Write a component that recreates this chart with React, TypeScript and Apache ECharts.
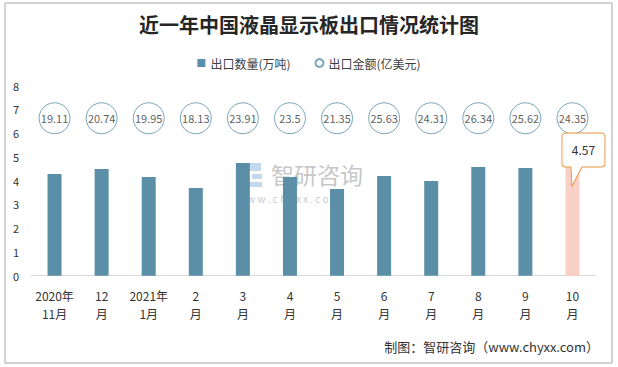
import React, { useEffect, useRef } from "react";
import * as echarts from "echarts";

const CATEGORIES = ["2020年\n11月", "12\n月", "2021年\n1月", "2\n月", "3\n月", "4\n月", "5\n月", "6\n月", "7\n月", "8\n月", "9\n月", "10\n月"];
const QUANTITY = [4.28, 4.49, 4.16, 3.69, 4.75, 4.16, 3.65, 4.2, 3.99, 4.58, 4.54, 4.57];
const AMOUNT = [19.11, 20.74, 19.95, 18.13, 23.91, 23.5, 21.35, 25.63, 24.31, 26.34, 25.62, 24.35];
const Y_TICKS = [0, 1, 2, 3, 4, 5, 6, 7, 8];

const TITLE = "近一年中国液晶显示板出口情况统计图";
const SERIES_NAMES = ["出口数量(万吨)", "出口金额(亿美元)"];
const SOURCE = "制图：智研咨询（www.chyxx.com）";

const FONT = "'Noto Sans CJK SC', 'Noto Sans', sans-serif";
const BAR_COLOR = "#5b8fa8";
const HIGHLIGHT_COLOR = "#f8d0c6";
const CALLOUT_COLOR = "#e8923a";
const LABEL_ROW = 6.63;

const CALLOUT_PATH =
  "path://M4,0 L39,0 Q43,0 43,4 L43,30 Q43,34 39,34 L20,34 L10,53 L9,34 L4,34 Q0,34 0,30 L0,4 Q0,0 4,0 Z";

export default function App() {
  const ref = useRef<HTMLDivElement>(null);
  useEffect(() => {
    document.body.style.margin = "0";
    if (!ref.current) return;
    const chart = echarts.init(ref.current, null, { renderer: "svg" });
    const last = QUANTITY.length - 1;
    chart.setOption({
      animation: false,
      backgroundColor: "#ffffff",
      textStyle: { fontFamily: FONT },
      title: {
        text: TITLE,
        left: "center",
        top: 9,
        textStyle: { fontFamily: FONT, fontSize: 20, fontWeight: "bold", color: "#262626" },
      },
      legend: {
        data: [
          { name: SERIES_NAMES[0], icon: "rect" },
          { name: SERIES_NAMES[1], icon: "circle" },
        ],
        left: "center",
        top: 52,
        itemWidth: 8,
        itemHeight: 8,
        itemGap: 24,
        textStyle: { fontFamily: FONT, fontSize: 12, color: "#404040" },
      },
      grid: { left: 31, right: 22, top: 85.7, bottom: 91.3, containLabel: false },
      xAxis: {
        type: "category",
        data: CATEGORIES,
        axisLine: { lineStyle: { color: "#d9d9d9" } },
        axisTick: { show: false },
        axisLabel: {
          interval: 0,
          margin: 11,
          fontSize: 12,
          lineHeight: 18,
          color: "#333333",
          fontFamily: FONT,
        },
      },
      yAxis: {
        type: "value",
        min: Y_TICKS[0],
        max: Y_TICKS[Y_TICKS.length - 1],
        interval: 1,
        splitLine: { show: false },
        axisLine: { show: false },
        axisTick: { show: false },
        axisLabel: { fontSize: 11, color: "#333333", margin: 12, fontFamily: FONT },
      },
      graphic: [
        {
          type: "rect",
          shape: { x: 5, y: 3, width: 607, height: 360 },
          style: { fill: "none", stroke: "#a6a6a6", lineWidth: 1 },
          z: 100,
          silent: true,
        },
        {
          type: "group",
          z: -1,
          silent: true,
          children: [
            { type: "rect", shape: { x: 238, y: 163, width: 9, height: 24 }, style: { fill: "rgba(91,143,168,0.45)" } },
            { type: "rect", shape: { x: 247, y: 163, width: 14, height: 8 }, style: { fill: "rgba(120,170,215,0.45)" } },
            { type: "rect", shape: { x: 252, y: 174, width: 10, height: 5 }, style: { fill: "rgba(120,170,215,0.45)" } },
            { type: "rect", shape: { x: 247, y: 182, width: 15, height: 5 }, style: { fill: "rgba(120,170,215,0.45)" } },
            {
              type: "text",
              x: 271,
              y: 162,
              style: { text: "智研咨询", fontSize: 23, lineHeight: 24, fill: "rgba(150,150,150,0.55)", fontFamily: FONT },
            },
            {
              type: "text",
              x: 237,
              y: 193,
              style: { text: "w w w . c h y x x . c o m", fontSize: 10, lineHeight: 10, fill: "rgba(150,150,150,0.55)", fontFamily: FONT },
            },
          ],
        },
        {
          type: "text",
          right: 19,
          top: 340,
          style: { text: SOURCE, fontSize: 13, fill: "#333333", fontFamily: FONT },
        },
      ],
      series: [
        {
          name: SERIES_NAMES[0],
          type: "bar",
          barWidth: 14,
          itemStyle: { color: BAR_COLOR },
          data: QUANTITY.map((v, i) =>
            i === last ? { value: v, itemStyle: { color: HIGHLIGHT_COLOR } } : v
          ),
          markPoint: {
            symbol: CALLOUT_PATH,
            symbolSize: [43, 53],
            symbolOffset: [11, -7.7],
            itemStyle: { color: "#ffffff", borderColor: CALLOUT_COLOR, borderWidth: 1 },
            label: {
              show: true,
              position: "inside",
              offset: [0, -9.5],
              color: "#333333",
              fontSize: 12,
              fontFamily: FONT,
              formatter: (p: any) => String(p.value),
            },
            data: [{ coord: [last, QUANTITY[last]], value: QUANTITY[last] }],
          },
        },
        {
          name: SERIES_NAMES[1],
          type: "scatter",
          symbol: "circle",
          symbolSize: 31,
          itemStyle: { color: "#ffffff", borderColor: BAR_COLOR, borderWidth: 1 },
          label: {
            show: true,
            position: "inside",
            color: "#333333",
            fontSize: 11,
            fontFamily: FONT,
            formatter: (p: any) => String(p.value[2]),
          },
          data: AMOUNT.map((v, i) => [i, LABEL_ROW, v]),
        },
      ],
    });
    return () => chart.dispose();
  }, []);
  return <div ref={ref} style={{ width: 618, height: 367 }} />;
}
